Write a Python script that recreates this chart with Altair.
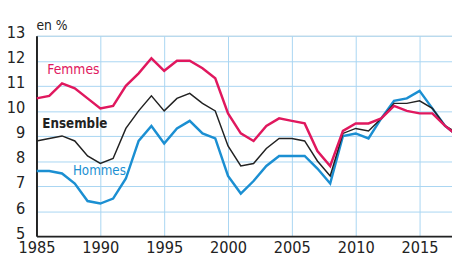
import altair as alt
import pandas as pd

years = list(range(1985, 2019))
femmes = [10.5, 10.6, 11.1, 10.9, 10.5, 10.1, 10.2, 11.0, 11.5, 12.1, 11.6, 12.0,
          12.0, 11.7, 11.3, 9.9, 9.1, 8.8, 9.4, 9.7, 9.6, 9.5, 8.4, 7.8, 9.2, 9.5,
          9.5, 9.7, 10.2, 10.0, 9.9, 9.9, 9.4, 9.0]
ensemble = [8.8, 8.9, 9.0, 8.8, 8.2, 7.9, 8.1, 9.3, 10.0, 10.6, 10.0, 10.5,
            10.7, 10.3, 10.0, 8.6, 7.8, 7.9, 8.5, 8.9, 8.9, 8.8, 8.0, 7.4, 9.1, 9.3,
            9.2, 9.7, 10.3, 10.3, 10.4, 10.1, 9.4, 9.1]
hommes = [7.6, 7.6, 7.5, 7.1, 6.4, 6.3, 6.5, 7.3, 8.8, 9.4, 8.7, 9.3,
          9.6, 9.1, 8.9, 7.4, 6.7, 7.2, 7.8, 8.2, 8.2, 8.2, 7.7, 7.1, 9.0, 9.1,
          8.9, 9.7, 10.4, 10.5, 10.8, 10.1, 9.4, 9.0]

series = ["Hommes", "Ensemble", "Femmes"]
series_values = [hommes, ensemble, femmes]
colors = ["#1b8fd2", "#222222", "#e0185e"]
widths = [2.5, 1.5, 2.5]

label_text = ["Femmes", "Ensemble", "Hommes"]
label_year = [1985.85, 1985.46, 1987.85]
label_value = [11.63, 9.47, 7.6]
label_color = ["#e0185e", "#222222", "#1b8fd2"]
label_weight = ["normal", "bold", "normal"]
label_size = [14, 13.5, 13.5]

x_ticks = [1985, 1990, 1995, 2000, 2005, 2010, 2015]
y_ticks = [5, 6, 7, 8, 9, 10, 11, 12, 13]

FONT = "Liberation Sans Narrow, DejaVu Sans Condensed, Liberation Sans, Arial, sans-serif"
GRID = "#a8d5f2"

labels = pd.DataFrame({"year": label_year, "value": label_value, "text": label_text})

xscale = alt.Scale(domain=[1985, 2017.54], nice=False, zero=False)
yscale = alt.Scale(domain=[5, 13], nice=False, zero=False)

xaxis = alt.Axis(values=x_ticks, format="d", title=None, grid=True, gridColor=GRID,
                 gridWidth=1, domainColor="#222222", domainWidth=2, ticks=False,
                 tickSize=0, labelFontSize=16.5, labelFont=FONT, labelColor="#222222",
                 labelPadding=4, labelFlush=False, labelOverlap=False)
yaxis = alt.Axis(values=y_ticks, format="d", title=None, grid=True, gridColor=GRID,
                 gridWidth=1, domainColor="#222222", domainWidth=2, ticks=False,
                 tickSize=0, labelFontSize=16.5, labelFont=FONT, labelColor="#222222",
                 labelPadding=12, labelOverlap=False, labelBaseline="middle",
                 labelOffset=-3)

line_layers = []
for i, (name, vals) in enumerate(zip(series, series_values)):
    d = pd.DataFrame({"year": years, "value": vals, "serie": name})
    line_layers.append(
        alt.Chart(d).mark_line(clip=True, color=colors[i], strokeWidth=widths[i],
                               strokeJoin="miter").encode(
            x=alt.X("year:Q", scale=xscale, axis=xaxis),
            y=alt.Y("value:Q", scale=yscale, axis=yaxis),
        )
    )

text_marks = []
for i in range(len(label_text)):
    t = alt.Chart(labels.iloc[[i]]).mark_text(
        align="left", baseline="middle", font=FONT, fontSize=label_size[i],
        fontWeight=label_weight[i], color=label_color[i]
    ).encode(
        x=alt.X("year:Q", scale=xscale, axis=xaxis),
        y=alt.Y("value:Q", scale=yscale, axis=yaxis),
        text="text:N",
    )
    text_marks.append(t)

unit = alt.Chart(pd.DataFrame({"t": ["en %"]})).mark_text(
    align="left", baseline="alphabetic", font=FONT, fontSize=14, color="#222222"
).encode(x=alt.value(0), y=alt.value(-6), text="t:N")

chart = alt.layer(*line_layers, *text_marks, unit).properties(
    width=423, height=204,
    autosize=alt.AutoSizeParams(type="none"),
    padding={"left": 29, "top": 26, "right": 0, "bottom": 19},
).configure_view(stroke=None).configure(background="white").configure_axis(
    labelOverlap=False
)

chart.save("out.html", embed_options={"renderer": "svg", "actions": False})
